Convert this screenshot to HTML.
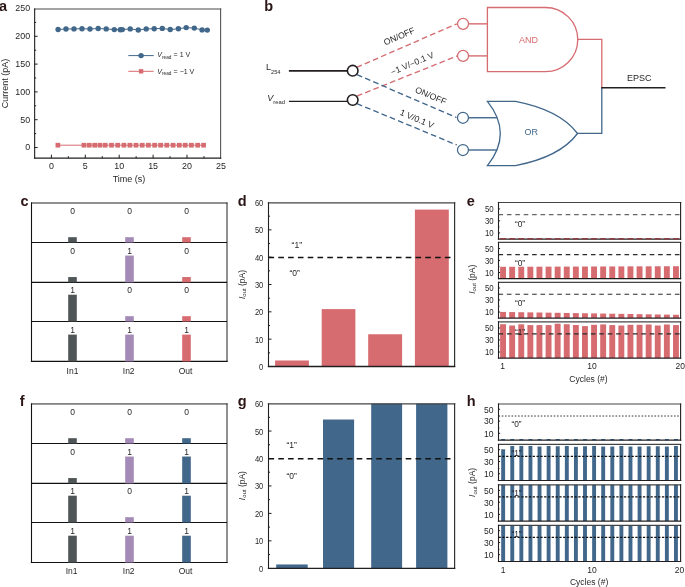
<!DOCTYPE html>
<html><head><meta charset="utf-8"><style>
html,body{margin:0;padding:0;background:#fff;}
svg{display:block;font-family:"Liberation Sans", sans-serif;will-change:transform;}
</style></head><body>
<svg width="685" height="587" viewBox="0 0 685 587">
<rect width="685" height="587" fill="#fff"/>
<text x="-1.00" y="10.60" font-size="14.5" text-anchor="start" fill="#2a1414" font-weight="bold" font-style="normal" >a</text>
<line x1="34.65" y1="8.95" x2="220.60" y2="8.95" stroke="#858585" stroke-width="1.4" stroke-linecap="square"/>
<line x1="220.60" y1="8.95" x2="220.60" y2="158.20" stroke="#555" stroke-width="1.1" stroke-linecap="square"/>
<line x1="34.65" y1="158.20" x2="220.60" y2="158.20" stroke="#231f20" stroke-width="1.2" stroke-linecap="square"/>
<line x1="34.65" y1="8.95" x2="34.65" y2="158.20" stroke="#231f20" stroke-width="1.1" stroke-linecap="square"/>
<line x1="34.65" y1="147.50" x2="37.65" y2="147.50" stroke="#231f20" stroke-width="1" />
<line x1="34.65" y1="133.60" x2="36.15" y2="133.60" stroke="#231f20" stroke-width="1" />
<line x1="34.65" y1="119.70" x2="37.65" y2="119.70" stroke="#231f20" stroke-width="1" />
<line x1="34.65" y1="105.80" x2="36.15" y2="105.80" stroke="#231f20" stroke-width="1" />
<line x1="34.65" y1="91.90" x2="37.65" y2="91.90" stroke="#231f20" stroke-width="1" />
<line x1="34.65" y1="78.00" x2="36.15" y2="78.00" stroke="#231f20" stroke-width="1" />
<line x1="34.65" y1="64.10" x2="37.65" y2="64.10" stroke="#231f20" stroke-width="1" />
<line x1="34.65" y1="50.20" x2="36.15" y2="50.20" stroke="#231f20" stroke-width="1" />
<line x1="34.65" y1="36.30" x2="37.65" y2="36.30" stroke="#231f20" stroke-width="1" />
<line x1="34.65" y1="22.40" x2="36.15" y2="22.40" stroke="#231f20" stroke-width="1" />
<text transform="translate(30.20 150.40) scale(0.9 1)" font-size="9.9" text-anchor="end" fill="#231f20" font-weight="normal" font-style="normal">0</text>
<text transform="translate(30.20 122.60) scale(0.9 1)" font-size="9.9" text-anchor="end" fill="#231f20" font-weight="normal" font-style="normal">50</text>
<text transform="translate(30.20 94.80) scale(0.9 1)" font-size="9.9" text-anchor="end" fill="#231f20" font-weight="normal" font-style="normal">100</text>
<text transform="translate(30.20 67.00) scale(0.9 1)" font-size="9.9" text-anchor="end" fill="#231f20" font-weight="normal" font-style="normal">150</text>
<text transform="translate(30.20 39.20) scale(0.9 1)" font-size="9.9" text-anchor="end" fill="#231f20" font-weight="normal" font-style="normal">200</text>
<text transform="translate(30.20 11.40) scale(0.9 1)" font-size="9.9" text-anchor="end" fill="#231f20" font-weight="normal" font-style="normal">250</text>
<line x1="51.40" y1="158.20" x2="51.40" y2="154.70" stroke="#231f20" stroke-width="1" />
<line x1="68.35" y1="158.20" x2="68.35" y2="156.20" stroke="#231f20" stroke-width="1" />
<line x1="85.30" y1="158.20" x2="85.30" y2="154.70" stroke="#231f20" stroke-width="1" />
<line x1="102.25" y1="158.20" x2="102.25" y2="156.20" stroke="#231f20" stroke-width="1" />
<line x1="119.20" y1="158.20" x2="119.20" y2="154.70" stroke="#231f20" stroke-width="1" />
<line x1="136.15" y1="158.20" x2="136.15" y2="156.20" stroke="#231f20" stroke-width="1" />
<line x1="153.10" y1="158.20" x2="153.10" y2="154.70" stroke="#231f20" stroke-width="1" />
<line x1="170.05" y1="158.20" x2="170.05" y2="156.20" stroke="#231f20" stroke-width="1" />
<line x1="187.00" y1="158.20" x2="187.00" y2="154.70" stroke="#231f20" stroke-width="1" />
<line x1="203.95" y1="158.20" x2="203.95" y2="156.20" stroke="#231f20" stroke-width="1" />
<text transform="translate(51.40 169.00) scale(0.9 1)" font-size="9.9" text-anchor="middle" fill="#231f20" font-weight="normal" font-style="normal">0</text>
<text transform="translate(85.30 169.00) scale(0.9 1)" font-size="9.9" text-anchor="middle" fill="#231f20" font-weight="normal" font-style="normal">5</text>
<text transform="translate(119.20 169.00) scale(0.9 1)" font-size="9.9" text-anchor="middle" fill="#231f20" font-weight="normal" font-style="normal">10</text>
<text transform="translate(153.10 169.00) scale(0.9 1)" font-size="9.9" text-anchor="middle" fill="#231f20" font-weight="normal" font-style="normal">15</text>
<text transform="translate(187.00 169.00) scale(0.9 1)" font-size="9.9" text-anchor="middle" fill="#231f20" font-weight="normal" font-style="normal">20</text>
<text transform="translate(220.90 169.00) scale(0.9 1)" font-size="9.9" text-anchor="middle" fill="#231f20" font-weight="normal" font-style="normal">25</text>
<text transform="translate(129.00 181.70) scale(0.95 1)" font-size="9.5" text-anchor="middle" fill="#231f20" font-weight="normal" font-style="normal">Time (s)</text>
<text x="7.60" y="83.40" font-size="9" text-anchor="middle" fill="#231f20" font-weight="normal" font-style="normal" transform="rotate(-90 7.6 83.4)">Current (pA)</text>
<polyline fill="none" stroke="#41678b" stroke-width="1" points="58.1,29.5 66,29.0 74,28.9 82,28.7 90,29.0 98.2,28.5 106.2,28.9 114.3,29.6 120.3,29.8 122.3,29.6 130.2,28.9 138.3,30 146.2,28.9 154.2,28.7 162.3,28.4 170.2,29.5 178.4,28.8 186.2,27.6 194.3,28.1 202.1,29.9 207.3,30.1"/>
<circle cx="58.1" cy="29.5" r="2.7" fill="#41678b"/>
<circle cx="66" cy="29.0" r="2.7" fill="#41678b"/>
<circle cx="74" cy="28.9" r="2.7" fill="#41678b"/>
<circle cx="82" cy="28.7" r="2.7" fill="#41678b"/>
<circle cx="90" cy="29.0" r="2.7" fill="#41678b"/>
<circle cx="98.2" cy="28.5" r="2.7" fill="#41678b"/>
<circle cx="106.2" cy="28.9" r="2.7" fill="#41678b"/>
<circle cx="114.3" cy="29.6" r="2.7" fill="#41678b"/>
<circle cx="120.3" cy="29.8" r="2.7" fill="#41678b"/>
<circle cx="122.3" cy="29.6" r="2.7" fill="#41678b"/>
<circle cx="130.2" cy="28.9" r="2.7" fill="#41678b"/>
<circle cx="138.3" cy="30" r="2.7" fill="#41678b"/>
<circle cx="146.2" cy="28.9" r="2.7" fill="#41678b"/>
<circle cx="154.2" cy="28.7" r="2.7" fill="#41678b"/>
<circle cx="162.3" cy="28.4" r="2.7" fill="#41678b"/>
<circle cx="170.2" cy="29.5" r="2.7" fill="#41678b"/>
<circle cx="178.4" cy="28.8" r="2.7" fill="#41678b"/>
<circle cx="186.2" cy="27.6" r="2.7" fill="#41678b"/>
<circle cx="194.3" cy="28.1" r="2.7" fill="#41678b"/>
<circle cx="202.1" cy="29.9" r="2.7" fill="#41678b"/>
<circle cx="207.3" cy="30.1" r="2.7" fill="#41678b"/>
<polyline fill="none" stroke="#d66b70" stroke-width="1" points="57.9,145.2 83.9,145.2 89.2,145.2 94.7,145.2 99.9,145.2 105.2,145.2 111.5,145.2 117.7,145.2 123.9,145.2 129.9,145.2 136.0,145.2 142.2,145.2 148.4,145.2 154.6,145.2 160.6,145.2 166.8,145.2 173.1,145.2 179.3,145.2 185.2,145.2 191.4,145.2 197.7,145.2 203.6,145.2"/>
<rect x="55.55" y="142.85" width="4.70" height="4.70" fill="#d66b70" stroke="none" stroke-width="1" />
<rect x="81.55" y="142.85" width="4.70" height="4.70" fill="#d66b70" stroke="none" stroke-width="1" />
<rect x="86.85" y="142.85" width="4.70" height="4.70" fill="#d66b70" stroke="none" stroke-width="1" />
<rect x="92.35" y="142.85" width="4.70" height="4.70" fill="#d66b70" stroke="none" stroke-width="1" />
<rect x="97.55" y="142.85" width="4.70" height="4.70" fill="#d66b70" stroke="none" stroke-width="1" />
<rect x="102.85" y="142.85" width="4.70" height="4.70" fill="#d66b70" stroke="none" stroke-width="1" />
<rect x="109.15" y="142.85" width="4.70" height="4.70" fill="#d66b70" stroke="none" stroke-width="1" />
<rect x="115.35" y="142.85" width="4.70" height="4.70" fill="#d66b70" stroke="none" stroke-width="1" />
<rect x="121.55" y="142.85" width="4.70" height="4.70" fill="#d66b70" stroke="none" stroke-width="1" />
<rect x="127.55" y="142.85" width="4.70" height="4.70" fill="#d66b70" stroke="none" stroke-width="1" />
<rect x="133.65" y="142.85" width="4.70" height="4.70" fill="#d66b70" stroke="none" stroke-width="1" />
<rect x="139.85" y="142.85" width="4.70" height="4.70" fill="#d66b70" stroke="none" stroke-width="1" />
<rect x="146.05" y="142.85" width="4.70" height="4.70" fill="#d66b70" stroke="none" stroke-width="1" />
<rect x="152.25" y="142.85" width="4.70" height="4.70" fill="#d66b70" stroke="none" stroke-width="1" />
<rect x="158.25" y="142.85" width="4.70" height="4.70" fill="#d66b70" stroke="none" stroke-width="1" />
<rect x="164.45" y="142.85" width="4.70" height="4.70" fill="#d66b70" stroke="none" stroke-width="1" />
<rect x="170.75" y="142.85" width="4.70" height="4.70" fill="#d66b70" stroke="none" stroke-width="1" />
<rect x="176.95" y="142.85" width="4.70" height="4.70" fill="#d66b70" stroke="none" stroke-width="1" />
<rect x="182.85" y="142.85" width="4.70" height="4.70" fill="#d66b70" stroke="none" stroke-width="1" />
<rect x="189.05" y="142.85" width="4.70" height="4.70" fill="#d66b70" stroke="none" stroke-width="1" />
<rect x="195.35" y="142.85" width="4.70" height="4.70" fill="#d66b70" stroke="none" stroke-width="1" />
<rect x="201.25" y="142.85" width="4.70" height="4.70" fill="#d66b70" stroke="none" stroke-width="1" />
<line x1="128.30" y1="55.60" x2="153.70" y2="55.60" stroke="#41678b" stroke-width="1" />
<circle cx="141.1" cy="55.6" r="2.7" fill="#41678b"/>
<line x1="128.30" y1="71.30" x2="153.70" y2="71.30" stroke="#d66b70" stroke-width="1" />
<rect x="138.90" y="69.10" width="4.40" height="4.40" fill="#d66b70" stroke="none" stroke-width="1" />
<text x="157.3" y="57.4" font-size="7" fill="#231f20"><tspan font-style="italic">V</tspan><tspan font-size="4.7" dy="1.4">read</tspan><tspan dy="-1.4" dx="0.3"> = 1 V</tspan></text>
<text x="157.3" y="73.9" font-size="7" fill="#231f20"><tspan font-style="italic">V</tspan><tspan font-size="4.7" dy="1.4">read</tspan><tspan dy="-1.4" dx="0.3"> = −1 V</tspan></text>
<text x="264.30" y="11.40" font-size="14.5" text-anchor="start" fill="#2a1414" font-weight="bold" font-style="normal" >b</text>
<text x="266" y="69.9" font-size="9" fill="#231f20">L<tspan font-size="5.6" dy="3.6">254</tspan></text>
<text x="267.3" y="101.4" font-size="9" fill="#231f20"><tspan font-style="italic">V</tspan><tspan font-size="5.9" dy="2.8">read</tspan></text>
<line x1="288.90" y1="70.90" x2="352.70" y2="70.90" stroke="#231f20" stroke-width="1.8" />
<line x1="288.90" y1="101.40" x2="352.70" y2="101.40" stroke="#231f20" stroke-width="1.3" />
<line x1="356.60" y1="67.40" x2="456.80" y2="23.80" stroke="#d66b70" stroke-width="1.35" stroke-dasharray="5.7 3.2"/>
<line x1="356.90" y1="96.10" x2="457.00" y2="56.00" stroke="#d66b70" stroke-width="1.35" stroke-dasharray="5.7 3.2"/>
<line x1="356.90" y1="74.70" x2="456.50" y2="117.50" stroke="#41678b" stroke-width="1.35" stroke-dasharray="5.7 3.2"/>
<line x1="356.90" y1="103.60" x2="456.80" y2="145.00" stroke="#41678b" stroke-width="1.35" stroke-dasharray="5.7 3.2"/>
<circle cx="352.7" cy="70.7" r="5.3" fill="#fff" stroke="#231f20" stroke-width="1.6"/>
<circle cx="352.7" cy="100.0" r="5.3" fill="#fff" stroke="#231f20" stroke-width="1.6"/>
<circle cx="463.05" cy="23.85" r="5.5" fill="#fff" stroke="#d66b70" stroke-width="1.25"/>
<circle cx="463.05" cy="55.9" r="5.5" fill="#fff" stroke="#d66b70" stroke-width="1.25"/>
<circle cx="462.95" cy="117.75" r="5.5" fill="#fff" stroke="#41678b" stroke-width="1.25"/>
<circle cx="462.95" cy="150.0" r="5.5" fill="#fff" stroke="#41678b" stroke-width="1.25"/>
<line x1="468.50" y1="23.85" x2="487.40" y2="23.85" stroke="#d66b70" stroke-width="1.4" />
<line x1="468.50" y1="55.90" x2="487.40" y2="55.90" stroke="#d66b70" stroke-width="1.4" />
<line x1="468.50" y1="117.75" x2="497.50" y2="117.75" stroke="#41678b" stroke-width="1.4" />
<line x1="468.50" y1="150.00" x2="497.50" y2="150.00" stroke="#41678b" stroke-width="1.4" />
<path d="M487.4,7.5 L545.5,7.5 A32.3,32.1 0 0 1 545.5,71.7 L487.4,71.7 Z" fill="#fff" stroke="#d66b70" stroke-width="1.3"/>
<text x="528.50" y="43.00" font-size="9" text-anchor="middle" fill="#d66b70" font-weight="normal" font-style="normal" >AND</text>
<path d="M487.4,101.4 L515.5,101.4 Q560,110 577.5,133.5 Q560,157 515.5,165.6 L487.4,165.6 Q513.2,133.5 487.4,101.4 Z" fill="#fff" stroke="#41678b" stroke-width="1.3"/>
<text x="531.20" y="135.00" font-size="9" text-anchor="middle" fill="#41678b" font-weight="normal" font-style="normal" >OR</text>
<polyline points="577.8,39.4 601.8,39.4 601.8,87.7" fill="none" stroke="#d66b70" stroke-width="1.3"/>
<polyline points="577.5,133.3 601.8,133.3 601.8,87.7" fill="none" stroke="#41678b" stroke-width="1.3"/>
<line x1="601.20" y1="87.70" x2="665.50" y2="87.70" stroke="#231f20" stroke-width="1.5" />
<text x="639.20" y="80.90" font-size="9" text-anchor="middle" fill="#231f20" font-weight="normal" font-style="normal" >EPSC</text>
<text x="400.3" y="39.0" font-size="8.7" text-anchor="middle" fill="#231f20" transform="rotate(-23.1 400.3 39.0)">ON/OFF</text>
<text x="413.4" y="66.2" font-size="8.7" text-anchor="middle" fill="#231f20" transform="rotate(-23.1 413.4 66.2)">−1 V/−0.1 V</text>
<text x="429.7" y="98.4" font-size="8.7" text-anchor="middle" fill="#231f20" transform="rotate(23.0 429.7 98.4)">ON/OFF</text>
<text x="415.8" y="121.6" font-size="8.7" text-anchor="middle" fill="#231f20" transform="rotate(23.0 415.8 121.6)">1 V/0.1 V</text>
<text x="20.50" y="206.30" font-size="14.5" text-anchor="start" fill="#2a1414" font-weight="bold" font-style="normal" >c</text>
<line x1="31.50" y1="203.00" x2="227.00" y2="203.00" stroke="#222" stroke-width="1.0" stroke-linecap="square"/>
<line x1="227.00" y1="203.00" x2="227.00" y2="361.40" stroke="#222" stroke-width="1.0" stroke-linecap="square"/>
<line x1="31.50" y1="361.40" x2="227.00" y2="361.40" stroke="#111" stroke-width="1.2" stroke-linecap="square"/>
<line x1="31.50" y1="203.00" x2="31.50" y2="361.40" stroke="#111" stroke-width="1.1" stroke-linecap="square"/>
<line x1="31.50" y1="242.50" x2="227.00" y2="242.50" stroke="#111" stroke-width="1.15" />
<line x1="31.50" y1="282.35" x2="227.00" y2="282.35" stroke="#111" stroke-width="1.15" />
<line x1="31.50" y1="321.50" x2="227.00" y2="321.50" stroke="#111" stroke-width="1.15" />
<rect x="68.20" y="237.20" width="8.60" height="5.30" fill="#505557" stroke="none" stroke-width="1" />
<text transform="translate(72.50 214.20) scale(0.95 1)" font-size="9" text-anchor="middle" fill="#231f20" font-weight="normal" font-style="normal">0</text>
<rect x="125.20" y="237.20" width="8.60" height="5.30" fill="#a48ab6" stroke="none" stroke-width="1" />
<text transform="translate(129.50 214.20) scale(0.95 1)" font-size="9" text-anchor="middle" fill="#231f20" font-weight="normal" font-style="normal">0</text>
<rect x="182.20" y="237.20" width="8.60" height="5.30" fill="#d66b70" stroke="none" stroke-width="1" />
<text transform="translate(186.50 214.20) scale(0.95 1)" font-size="9" text-anchor="middle" fill="#231f20" font-weight="normal" font-style="normal">0</text>
<rect x="68.20" y="277.05" width="8.60" height="5.30" fill="#505557" stroke="none" stroke-width="1" />
<text transform="translate(72.50 254.05) scale(0.95 1)" font-size="9" text-anchor="middle" fill="#231f20" font-weight="normal" font-style="normal">0</text>
<rect x="125.20" y="255.55" width="8.60" height="26.80" fill="#a48ab6" stroke="none" stroke-width="1" />
<text transform="translate(129.50 254.05) scale(0.95 1)" font-size="9" text-anchor="middle" fill="#231f20" font-weight="normal" font-style="normal">1</text>
<rect x="182.20" y="277.05" width="8.60" height="5.30" fill="#d66b70" stroke="none" stroke-width="1" />
<text transform="translate(186.50 254.05) scale(0.95 1)" font-size="9" text-anchor="middle" fill="#231f20" font-weight="normal" font-style="normal">0</text>
<rect x="68.20" y="294.70" width="8.60" height="26.80" fill="#505557" stroke="none" stroke-width="1" />
<text transform="translate(72.50 293.20) scale(0.95 1)" font-size="9" text-anchor="middle" fill="#231f20" font-weight="normal" font-style="normal">1</text>
<rect x="125.20" y="316.20" width="8.60" height="5.30" fill="#a48ab6" stroke="none" stroke-width="1" />
<text transform="translate(129.50 293.20) scale(0.95 1)" font-size="9" text-anchor="middle" fill="#231f20" font-weight="normal" font-style="normal">0</text>
<rect x="182.20" y="316.20" width="8.60" height="5.30" fill="#d66b70" stroke="none" stroke-width="1" />
<text transform="translate(186.50 293.20) scale(0.95 1)" font-size="9" text-anchor="middle" fill="#231f20" font-weight="normal" font-style="normal">0</text>
<rect x="68.20" y="334.60" width="8.60" height="26.80" fill="#505557" stroke="none" stroke-width="1" />
<text transform="translate(72.50 333.10) scale(0.95 1)" font-size="9" text-anchor="middle" fill="#231f20" font-weight="normal" font-style="normal">1</text>
<rect x="125.20" y="334.60" width="8.60" height="26.80" fill="#a48ab6" stroke="none" stroke-width="1" />
<text transform="translate(129.50 333.10) scale(0.95 1)" font-size="9" text-anchor="middle" fill="#231f20" font-weight="normal" font-style="normal">1</text>
<rect x="182.20" y="334.60" width="8.60" height="26.80" fill="#d66b70" stroke="none" stroke-width="1" />
<text transform="translate(186.50 333.10) scale(0.95 1)" font-size="9" text-anchor="middle" fill="#231f20" font-weight="normal" font-style="normal">1</text>
<text x="72.50" y="373.90" font-size="8.5" text-anchor="middle" fill="#231f20" font-weight="normal" font-style="normal" >In1</text>
<text x="128.70" y="373.90" font-size="8.5" text-anchor="middle" fill="#231f20" font-weight="normal" font-style="normal" >In2</text>
<text x="185.50" y="373.90" font-size="8.5" text-anchor="middle" fill="#231f20" font-weight="normal" font-style="normal" >Out</text>
<text x="19.80" y="405.90" font-size="14.5" text-anchor="start" fill="#2a1414" font-weight="bold" font-style="normal" >f</text>
<line x1="31.50" y1="403.95" x2="227.00" y2="403.95" stroke="#222" stroke-width="1.0" stroke-linecap="square"/>
<line x1="227.00" y1="403.95" x2="227.00" y2="562.50" stroke="#222" stroke-width="1.0" stroke-linecap="square"/>
<line x1="31.50" y1="562.50" x2="227.00" y2="562.50" stroke="#111" stroke-width="1.2" stroke-linecap="square"/>
<line x1="31.50" y1="403.95" x2="31.50" y2="562.50" stroke="#111" stroke-width="1.1" stroke-linecap="square"/>
<line x1="31.50" y1="443.50" x2="227.00" y2="443.50" stroke="#111" stroke-width="1.15" />
<line x1="31.50" y1="483.35" x2="227.00" y2="483.35" stroke="#111" stroke-width="1.15" />
<line x1="31.50" y1="522.50" x2="227.00" y2="522.50" stroke="#111" stroke-width="1.15" />
<rect x="68.20" y="438.20" width="8.60" height="5.30" fill="#505557" stroke="none" stroke-width="1" />
<text transform="translate(72.50 415.20) scale(0.95 1)" font-size="9" text-anchor="middle" fill="#231f20" font-weight="normal" font-style="normal">0</text>
<rect x="125.20" y="438.20" width="8.60" height="5.30" fill="#a48ab6" stroke="none" stroke-width="1" />
<text transform="translate(129.50 415.20) scale(0.95 1)" font-size="9" text-anchor="middle" fill="#231f20" font-weight="normal" font-style="normal">0</text>
<rect x="182.20" y="438.20" width="8.60" height="5.30" fill="#41678b" stroke="none" stroke-width="1" />
<text transform="translate(186.50 415.20) scale(0.95 1)" font-size="9" text-anchor="middle" fill="#231f20" font-weight="normal" font-style="normal">0</text>
<rect x="68.20" y="478.05" width="8.60" height="5.30" fill="#505557" stroke="none" stroke-width="1" />
<text transform="translate(72.50 455.05) scale(0.95 1)" font-size="9" text-anchor="middle" fill="#231f20" font-weight="normal" font-style="normal">0</text>
<rect x="125.20" y="456.55" width="8.60" height="26.80" fill="#a48ab6" stroke="none" stroke-width="1" />
<text transform="translate(129.50 455.05) scale(0.95 1)" font-size="9" text-anchor="middle" fill="#231f20" font-weight="normal" font-style="normal">1</text>
<rect x="182.20" y="456.55" width="8.60" height="26.80" fill="#41678b" stroke="none" stroke-width="1" />
<text transform="translate(186.50 455.05) scale(0.95 1)" font-size="9" text-anchor="middle" fill="#231f20" font-weight="normal" font-style="normal">1</text>
<rect x="68.20" y="495.70" width="8.60" height="26.80" fill="#505557" stroke="none" stroke-width="1" />
<text transform="translate(72.50 494.20) scale(0.95 1)" font-size="9" text-anchor="middle" fill="#231f20" font-weight="normal" font-style="normal">1</text>
<rect x="125.20" y="517.20" width="8.60" height="5.30" fill="#a48ab6" stroke="none" stroke-width="1" />
<text transform="translate(129.50 494.20) scale(0.95 1)" font-size="9" text-anchor="middle" fill="#231f20" font-weight="normal" font-style="normal">0</text>
<rect x="182.20" y="495.70" width="8.60" height="26.80" fill="#41678b" stroke="none" stroke-width="1" />
<text transform="translate(186.50 494.20) scale(0.95 1)" font-size="9" text-anchor="middle" fill="#231f20" font-weight="normal" font-style="normal">1</text>
<rect x="68.20" y="535.70" width="8.60" height="26.80" fill="#505557" stroke="none" stroke-width="1" />
<text transform="translate(72.50 534.20) scale(0.95 1)" font-size="9" text-anchor="middle" fill="#231f20" font-weight="normal" font-style="normal">1</text>
<rect x="125.20" y="535.70" width="8.60" height="26.80" fill="#a48ab6" stroke="none" stroke-width="1" />
<text transform="translate(129.50 534.20) scale(0.95 1)" font-size="9" text-anchor="middle" fill="#231f20" font-weight="normal" font-style="normal">1</text>
<rect x="182.20" y="535.70" width="8.60" height="26.80" fill="#41678b" stroke="none" stroke-width="1" />
<text transform="translate(186.50 534.20) scale(0.95 1)" font-size="9" text-anchor="middle" fill="#231f20" font-weight="normal" font-style="normal">1</text>
<text x="71.60" y="573.80" font-size="8.5" text-anchor="middle" fill="#231f20" font-weight="normal" font-style="normal" >In1</text>
<text x="128.70" y="573.80" font-size="8.5" text-anchor="middle" fill="#231f20" font-weight="normal" font-style="normal" >In2</text>
<text x="185.50" y="573.80" font-size="8.5" text-anchor="middle" fill="#231f20" font-weight="normal" font-style="normal" >Out</text>
<text x="237.80" y="206.30" font-size="14.5" text-anchor="start" fill="#2a1414" font-weight="bold" font-style="normal" >d</text>
<rect x="275.10" y="360.49" width="33.80" height="6.01" fill="#d66b70" stroke="none" stroke-width="1" />
<rect x="321.70" y="309.10" width="33.70" height="57.40" fill="#d66b70" stroke="none" stroke-width="1" />
<rect x="368.20" y="334.25" width="33.90" height="32.25" fill="#d66b70" stroke="none" stroke-width="1" />
<rect x="414.90" y="209.61" width="33.90" height="156.89" fill="#d66b70" stroke="none" stroke-width="1" />
<line x1="268.50" y1="202.80" x2="454.60" y2="202.80" stroke="#444" stroke-width="1.3" stroke-linecap="square"/>
<line x1="454.60" y1="202.80" x2="454.60" y2="366.50" stroke="#333" stroke-width="1.2" stroke-linecap="square"/>
<line x1="268.50" y1="366.50" x2="454.60" y2="366.50" stroke="#231f20" stroke-width="1.3" stroke-linecap="square"/>
<line x1="268.50" y1="202.80" x2="268.50" y2="366.50" stroke="#231f20" stroke-width="1.1" stroke-linecap="square"/>
<line x1="268.50" y1="352.83" x2="270.00" y2="352.83" stroke="#231f20" stroke-width="1" />
<line x1="268.50" y1="339.17" x2="271.50" y2="339.17" stroke="#231f20" stroke-width="1" />
<line x1="268.50" y1="325.50" x2="270.00" y2="325.50" stroke="#231f20" stroke-width="1" />
<line x1="268.50" y1="311.83" x2="271.50" y2="311.83" stroke="#231f20" stroke-width="1" />
<line x1="268.50" y1="298.17" x2="270.00" y2="298.17" stroke="#231f20" stroke-width="1" />
<line x1="268.50" y1="284.50" x2="271.50" y2="284.50" stroke="#231f20" stroke-width="1" />
<line x1="268.50" y1="270.83" x2="270.00" y2="270.83" stroke="#231f20" stroke-width="1" />
<line x1="268.50" y1="257.17" x2="271.50" y2="257.17" stroke="#231f20" stroke-width="1" />
<line x1="268.50" y1="243.50" x2="270.00" y2="243.50" stroke="#231f20" stroke-width="1" />
<line x1="268.50" y1="229.83" x2="271.50" y2="229.83" stroke="#231f20" stroke-width="1" />
<line x1="268.50" y1="216.17" x2="270.00" y2="216.17" stroke="#231f20" stroke-width="1" />
<text transform="translate(263.30 370.00) scale(0.77 1)" font-size="9.8" text-anchor="end" fill="#231f20" font-weight="normal" font-style="normal">0</text>
<text transform="translate(263.30 342.67) scale(0.77 1)" font-size="9.8" text-anchor="end" fill="#231f20" font-weight="normal" font-style="normal">10</text>
<text transform="translate(263.30 315.33) scale(0.77 1)" font-size="9.8" text-anchor="end" fill="#231f20" font-weight="normal" font-style="normal">20</text>
<text transform="translate(263.30 288.00) scale(0.77 1)" font-size="9.8" text-anchor="end" fill="#231f20" font-weight="normal" font-style="normal">30</text>
<text transform="translate(263.30 260.67) scale(0.77 1)" font-size="9.8" text-anchor="end" fill="#231f20" font-weight="normal" font-style="normal">40</text>
<text transform="translate(263.30 233.33) scale(0.77 1)" font-size="9.8" text-anchor="end" fill="#231f20" font-weight="normal" font-style="normal">50</text>
<text transform="translate(263.30 206.00) scale(0.77 1)" font-size="9.8" text-anchor="end" fill="#231f20" font-weight="normal" font-style="normal">60</text>
<line x1="268.50" y1="257.47" x2="454.60" y2="257.47" stroke="#111" stroke-width="1.5" stroke-dasharray="5.6 4.2"/>
<text transform="translate(296.80 248.00) scale(0.92 1)" font-size="9.3" text-anchor="middle" fill="#231f20" font-weight="normal" font-style="normal">“1”</text>
<text transform="translate(294.60 276.00) scale(0.92 1)" font-size="9.3" text-anchor="middle" fill="#231f20" font-weight="normal" font-style="normal">“0”</text>
<text x="244.6" y="284.5" font-size="8.5" fill="#231f20" text-anchor="middle" transform="rotate(-90 244.6 284.5)"><tspan font-style="italic">I</tspan><tspan font-size="6" dy="1.3">out</tspan><tspan dy="-1.3"> (pA)</tspan></text>
<text x="237.80" y="405.60" font-size="14.5" text-anchor="start" fill="#2a1414" font-weight="bold" font-style="normal" >g</text>
<rect x="276.20" y="564.46" width="31.50" height="3.84" fill="#41678b" stroke="none" stroke-width="1" />
<rect x="323.00" y="419.52" width="31.10" height="148.78" fill="#41678b" stroke="none" stroke-width="1" />
<rect x="371.20" y="403.60" width="30.90" height="164.70" fill="#41678b" stroke="none" stroke-width="1" />
<rect x="416.10" y="403.60" width="31.30" height="164.70" fill="#41678b" stroke="none" stroke-width="1" />
<line x1="268.50" y1="403.90" x2="454.60" y2="403.90" stroke="#444" stroke-width="1.3" stroke-linecap="square"/>
<line x1="454.60" y1="403.90" x2="454.60" y2="568.30" stroke="#333" stroke-width="1.2" stroke-linecap="square"/>
<line x1="268.50" y1="568.30" x2="454.60" y2="568.30" stroke="#231f20" stroke-width="1.3" stroke-linecap="square"/>
<line x1="268.50" y1="403.90" x2="268.50" y2="568.30" stroke="#231f20" stroke-width="1.1" stroke-linecap="square"/>
<line x1="268.50" y1="554.57" x2="270.00" y2="554.57" stroke="#231f20" stroke-width="1" />
<line x1="268.50" y1="540.85" x2="271.50" y2="540.85" stroke="#231f20" stroke-width="1" />
<line x1="268.50" y1="527.12" x2="270.00" y2="527.12" stroke="#231f20" stroke-width="1" />
<line x1="268.50" y1="513.40" x2="271.50" y2="513.40" stroke="#231f20" stroke-width="1" />
<line x1="268.50" y1="499.67" x2="270.00" y2="499.67" stroke="#231f20" stroke-width="1" />
<line x1="268.50" y1="485.95" x2="271.50" y2="485.95" stroke="#231f20" stroke-width="1" />
<line x1="268.50" y1="472.23" x2="270.00" y2="472.23" stroke="#231f20" stroke-width="1" />
<line x1="268.50" y1="458.50" x2="271.50" y2="458.50" stroke="#231f20" stroke-width="1" />
<line x1="268.50" y1="444.77" x2="270.00" y2="444.77" stroke="#231f20" stroke-width="1" />
<line x1="268.50" y1="431.05" x2="271.50" y2="431.05" stroke="#231f20" stroke-width="1" />
<line x1="268.50" y1="417.33" x2="270.00" y2="417.33" stroke="#231f20" stroke-width="1" />
<text transform="translate(263.30 571.80) scale(0.77 1)" font-size="9.8" text-anchor="end" fill="#231f20" font-weight="normal" font-style="normal">0</text>
<text transform="translate(263.30 544.35) scale(0.77 1)" font-size="9.8" text-anchor="end" fill="#231f20" font-weight="normal" font-style="normal">10</text>
<text transform="translate(263.30 516.90) scale(0.77 1)" font-size="9.8" text-anchor="end" fill="#231f20" font-weight="normal" font-style="normal">20</text>
<text transform="translate(263.30 489.45) scale(0.77 1)" font-size="9.8" text-anchor="end" fill="#231f20" font-weight="normal" font-style="normal">30</text>
<text transform="translate(263.30 462.00) scale(0.77 1)" font-size="9.8" text-anchor="end" fill="#231f20" font-weight="normal" font-style="normal">40</text>
<text transform="translate(263.30 434.55) scale(0.77 1)" font-size="9.8" text-anchor="end" fill="#231f20" font-weight="normal" font-style="normal">50</text>
<text transform="translate(263.30 407.10) scale(0.77 1)" font-size="9.8" text-anchor="end" fill="#231f20" font-weight="normal" font-style="normal">60</text>
<line x1="268.50" y1="458.80" x2="454.60" y2="458.80" stroke="#111" stroke-width="1.5" stroke-dasharray="5.6 4.2"/>
<text transform="translate(291.60 447.60) scale(0.92 1)" font-size="9.3" text-anchor="middle" fill="#231f20" font-weight="normal" font-style="normal">“1”</text>
<text transform="translate(291.60 479.40) scale(0.92 1)" font-size="9.3" text-anchor="middle" fill="#231f20" font-weight="normal" font-style="normal">“0”</text>
<text x="244.6" y="485.6" font-size="8.5" fill="#231f20" text-anchor="middle" transform="rotate(-90 244.6 485.6)"><tspan font-style="italic">I</tspan><tspan font-size="6" dy="1.3">out</tspan><tspan dy="-1.3"> (pA)</tspan></text>
<text x="466.80" y="206.30" font-size="14.5" text-anchor="start" fill="#2a1414" font-weight="bold" font-style="normal" >e</text>
<clipPath id="cpe0"><rect x="498.5" y="202.5" width="182.10000000000002" height="36.599999999999994"/></clipPath>
<line x1="498.50" y1="202.50" x2="680.60" y2="202.50" stroke="#444" stroke-width="1.2" stroke-linecap="square"/>
<line x1="680.60" y1="202.50" x2="680.60" y2="239.10" stroke="#231f20" stroke-width="1.1" stroke-linecap="square"/>
<line x1="498.50" y1="239.10" x2="680.60" y2="239.10" stroke="#231f20" stroke-width="1.2" stroke-linecap="square"/>
<line x1="498.50" y1="202.50" x2="498.50" y2="239.10" stroke="#231f20" stroke-width="1.1" stroke-linecap="square"/>
<rect x="500.10" y="238.00" width="5.90" height="1.50" fill="#8e4044" stroke="none" stroke-width="1" />
<rect x="509.20" y="238.00" width="5.90" height="1.50" fill="#8e4044" stroke="none" stroke-width="1" />
<rect x="518.30" y="238.00" width="5.90" height="1.50" fill="#8e4044" stroke="none" stroke-width="1" />
<rect x="527.40" y="238.00" width="5.90" height="1.50" fill="#8e4044" stroke="none" stroke-width="1" />
<rect x="536.50" y="238.00" width="5.90" height="1.50" fill="#8e4044" stroke="none" stroke-width="1" />
<rect x="545.60" y="238.00" width="5.90" height="1.50" fill="#8e4044" stroke="none" stroke-width="1" />
<rect x="554.70" y="238.00" width="5.90" height="1.50" fill="#8e4044" stroke="none" stroke-width="1" />
<rect x="563.80" y="238.00" width="5.90" height="1.50" fill="#8e4044" stroke="none" stroke-width="1" />
<rect x="572.90" y="238.00" width="5.90" height="1.50" fill="#8e4044" stroke="none" stroke-width="1" />
<rect x="582.00" y="238.00" width="5.90" height="1.50" fill="#8e4044" stroke="none" stroke-width="1" />
<rect x="591.10" y="238.00" width="5.90" height="1.50" fill="#8e4044" stroke="none" stroke-width="1" />
<rect x="600.20" y="238.00" width="5.90" height="1.50" fill="#8e4044" stroke="none" stroke-width="1" />
<rect x="609.30" y="238.00" width="5.90" height="1.50" fill="#8e4044" stroke="none" stroke-width="1" />
<rect x="618.40" y="238.00" width="5.90" height="1.50" fill="#8e4044" stroke="none" stroke-width="1" />
<rect x="627.50" y="238.00" width="5.90" height="1.50" fill="#8e4044" stroke="none" stroke-width="1" />
<rect x="636.60" y="238.00" width="5.90" height="1.50" fill="#8e4044" stroke="none" stroke-width="1" />
<rect x="645.70" y="238.00" width="5.90" height="1.50" fill="#8e4044" stroke="none" stroke-width="1" />
<rect x="654.80" y="238.00" width="5.90" height="1.50" fill="#8e4044" stroke="none" stroke-width="1" />
<rect x="663.90" y="238.00" width="5.90" height="1.50" fill="#8e4044" stroke="none" stroke-width="1" />
<rect x="673.00" y="238.00" width="5.90" height="1.50" fill="#8e4044" stroke="none" stroke-width="1" />
<text transform="translate(493.60 236.20) scale(0.8 1)" font-size="9.8" text-anchor="end" fill="#231f20" font-weight="normal" font-style="normal">10</text>
<line x1="498.50" y1="232.90" x2="500.10" y2="232.90" stroke="#231f20" stroke-width="1" />
<text transform="translate(493.60 224.10) scale(0.8 1)" font-size="9.8" text-anchor="end" fill="#231f20" font-weight="normal" font-style="normal">30</text>
<line x1="498.50" y1="220.80" x2="500.10" y2="220.80" stroke="#231f20" stroke-width="1" />
<text transform="translate(493.60 212.20) scale(0.8 1)" font-size="9.8" text-anchor="end" fill="#231f20" font-weight="normal" font-style="normal">50</text>
<line x1="498.50" y1="208.90" x2="500.10" y2="208.90" stroke="#231f20" stroke-width="1" />
<line x1="498.50" y1="226.90" x2="499.50" y2="226.90" stroke="#231f20" stroke-width="0.8" />
<line x1="498.50" y1="214.70" x2="499.50" y2="214.70" stroke="#231f20" stroke-width="0.8" />
<line x1="498.50" y1="214.70" x2="680.60" y2="214.70" stroke="#666" stroke-width="1.3" stroke-dasharray="4.6 3.8"/>
<text transform="translate(520.00 227.10) scale(0.9 1)" font-size="9.3" text-anchor="middle" fill="#231f20" font-weight="normal" font-style="normal">“0”</text>
<clipPath id="cpe1"><rect x="498.5" y="242.45" width="182.10000000000002" height="36.25"/></clipPath>
<g clip-path="url(#cpe1)"><rect x="500.10" y="266.80" width="5.9" height="11.90" fill="#d66b70"/><rect x="509.20" y="266.77" width="5.9" height="11.93" fill="#d66b70"/><rect x="518.30" y="266.74" width="5.9" height="11.96" fill="#d66b70"/><rect x="527.40" y="266.71" width="5.9" height="11.99" fill="#d66b70"/><rect x="536.50" y="266.68" width="5.9" height="12.02" fill="#d66b70"/><rect x="545.60" y="266.65" width="5.9" height="12.05" fill="#d66b70"/><rect x="554.70" y="266.62" width="5.9" height="12.08" fill="#d66b70"/><rect x="563.80" y="266.59" width="5.9" height="12.11" fill="#d66b70"/><rect x="572.90" y="266.56" width="5.9" height="12.14" fill="#d66b70"/><rect x="582.00" y="266.53" width="5.9" height="12.17" fill="#d66b70"/><rect x="591.10" y="266.50" width="5.9" height="12.20" fill="#d66b70"/><rect x="600.20" y="266.47" width="5.9" height="12.23" fill="#d66b70"/><rect x="609.30" y="266.44" width="5.9" height="12.26" fill="#d66b70"/><rect x="618.40" y="266.41" width="5.9" height="12.29" fill="#d66b70"/><rect x="627.50" y="266.38" width="5.9" height="12.32" fill="#d66b70"/><rect x="636.60" y="266.34" width="5.9" height="12.36" fill="#d66b70"/><rect x="645.70" y="266.31" width="5.9" height="12.39" fill="#d66b70"/><rect x="654.80" y="266.28" width="5.9" height="12.42" fill="#d66b70"/><rect x="663.90" y="266.25" width="5.9" height="12.45" fill="#d66b70"/><rect x="673.00" y="266.22" width="5.9" height="12.48" fill="#d66b70"/></g>
<line x1="498.50" y1="242.45" x2="680.60" y2="242.45" stroke="#444" stroke-width="1.2" stroke-linecap="square"/>
<line x1="680.60" y1="242.45" x2="680.60" y2="278.70" stroke="#231f20" stroke-width="1.1" stroke-linecap="square"/>
<line x1="498.50" y1="278.70" x2="680.60" y2="278.70" stroke="#231f20" stroke-width="1.2" stroke-linecap="square"/>
<line x1="498.50" y1="242.45" x2="498.50" y2="278.70" stroke="#231f20" stroke-width="1.1" stroke-linecap="square"/>
<text transform="translate(493.60 275.80) scale(0.8 1)" font-size="9.8" text-anchor="end" fill="#231f20" font-weight="normal" font-style="normal">10</text>
<line x1="498.50" y1="272.50" x2="500.10" y2="272.50" stroke="#231f20" stroke-width="1" />
<text transform="translate(493.60 263.70) scale(0.8 1)" font-size="9.8" text-anchor="end" fill="#231f20" font-weight="normal" font-style="normal">30</text>
<line x1="498.50" y1="260.40" x2="500.10" y2="260.40" stroke="#231f20" stroke-width="1" />
<text transform="translate(493.60 251.80) scale(0.8 1)" font-size="9.8" text-anchor="end" fill="#231f20" font-weight="normal" font-style="normal">50</text>
<line x1="498.50" y1="248.50" x2="500.10" y2="248.50" stroke="#231f20" stroke-width="1" />
<line x1="498.50" y1="266.62" x2="499.50" y2="266.62" stroke="#231f20" stroke-width="0.8" />
<line x1="498.50" y1="254.53" x2="499.50" y2="254.53" stroke="#231f20" stroke-width="0.8" />
<line x1="498.50" y1="254.53" x2="680.60" y2="254.53" stroke="#2a2a2a" stroke-width="1.2" stroke-dasharray="4.6 3.8"/>
<text transform="translate(520.00 266.20) scale(0.9 1)" font-size="9.3" text-anchor="middle" fill="#231f20" font-weight="normal" font-style="normal">“0”</text>
<clipPath id="cpe2"><rect x="498.5" y="282.3" width="182.10000000000002" height="35.89999999999998"/></clipPath>
<g clip-path="url(#cpe2)"><rect x="500.10" y="311.92" width="5.9" height="6.28" fill="#d66b70"/><rect x="509.20" y="312.07" width="5.9" height="6.13" fill="#d66b70"/><rect x="518.30" y="312.22" width="5.9" height="5.98" fill="#d66b70"/><rect x="527.40" y="312.37" width="5.9" height="5.83" fill="#d66b70"/><rect x="536.50" y="312.52" width="5.9" height="5.68" fill="#d66b70"/><rect x="545.60" y="312.67" width="5.9" height="5.53" fill="#d66b70"/><rect x="554.70" y="312.81" width="5.9" height="5.38" fill="#d66b70"/><rect x="563.80" y="312.96" width="5.9" height="5.24" fill="#d66b70"/><rect x="572.90" y="313.11" width="5.9" height="5.09" fill="#d66b70"/><rect x="582.00" y="313.26" width="5.9" height="4.94" fill="#d66b70"/><rect x="591.10" y="313.41" width="5.9" height="4.79" fill="#d66b70"/><rect x="600.20" y="313.56" width="5.9" height="4.64" fill="#d66b70"/><rect x="609.30" y="313.71" width="5.9" height="4.49" fill="#d66b70"/><rect x="618.40" y="313.86" width="5.9" height="4.34" fill="#d66b70"/><rect x="627.50" y="314.01" width="5.9" height="4.19" fill="#d66b70"/><rect x="636.60" y="314.16" width="5.9" height="4.04" fill="#d66b70"/><rect x="645.70" y="314.31" width="5.9" height="3.89" fill="#d66b70"/><rect x="654.80" y="314.46" width="5.9" height="3.74" fill="#d66b70"/><rect x="663.90" y="314.61" width="5.9" height="3.59" fill="#d66b70"/><rect x="673.00" y="314.76" width="5.9" height="3.44" fill="#d66b70"/></g>
<line x1="498.50" y1="282.30" x2="680.60" y2="282.30" stroke="#444" stroke-width="1.2" stroke-linecap="square"/>
<line x1="680.60" y1="282.30" x2="680.60" y2="318.20" stroke="#231f20" stroke-width="1.1" stroke-linecap="square"/>
<line x1="498.50" y1="318.20" x2="680.60" y2="318.20" stroke="#231f20" stroke-width="1.2" stroke-linecap="square"/>
<line x1="498.50" y1="282.30" x2="498.50" y2="318.20" stroke="#231f20" stroke-width="1.1" stroke-linecap="square"/>
<text transform="translate(493.60 315.30) scale(0.8 1)" font-size="9.8" text-anchor="end" fill="#231f20" font-weight="normal" font-style="normal">10</text>
<line x1="498.50" y1="312.00" x2="500.10" y2="312.00" stroke="#231f20" stroke-width="1" />
<text transform="translate(493.60 303.20) scale(0.8 1)" font-size="9.8" text-anchor="end" fill="#231f20" font-weight="normal" font-style="normal">30</text>
<line x1="498.50" y1="299.90" x2="500.10" y2="299.90" stroke="#231f20" stroke-width="1" />
<text transform="translate(493.60 291.30) scale(0.8 1)" font-size="9.8" text-anchor="end" fill="#231f20" font-weight="normal" font-style="normal">50</text>
<line x1="498.50" y1="288.00" x2="500.10" y2="288.00" stroke="#231f20" stroke-width="1" />
<line x1="498.50" y1="306.23" x2="499.50" y2="306.23" stroke="#231f20" stroke-width="0.8" />
<line x1="498.50" y1="294.27" x2="499.50" y2="294.27" stroke="#231f20" stroke-width="0.8" />
<line x1="498.50" y1="294.27" x2="680.60" y2="294.27" stroke="#2a2a2a" stroke-width="1.2" stroke-dasharray="4.6 3.8"/>
<text transform="translate(520.00 306.00) scale(0.9 1)" font-size="9.3" text-anchor="middle" fill="#231f20" font-weight="normal" font-style="normal">“0”</text>
<clipPath id="cpe3"><rect x="498.5" y="321.8" width="182.10000000000002" height="36.39999999999998"/></clipPath>
<g clip-path="url(#cpe3)"><rect x="500.10" y="324.21" width="5.9" height="33.99" fill="#d66b70"/><rect x="509.20" y="325.51" width="5.9" height="32.69" fill="#d66b70"/><rect x="518.30" y="324.31" width="5.9" height="33.89" fill="#d66b70"/><rect x="527.40" y="325.11" width="5.9" height="33.09" fill="#d66b70"/><rect x="536.50" y="325.11" width="5.9" height="33.09" fill="#d66b70"/><rect x="545.60" y="325.11" width="5.9" height="33.09" fill="#d66b70"/><rect x="554.70" y="323.71" width="5.9" height="34.49" fill="#d66b70"/><rect x="563.80" y="324.21" width="5.9" height="33.99" fill="#d66b70"/><rect x="572.90" y="325.01" width="5.9" height="33.19" fill="#d66b70"/><rect x="582.00" y="326.11" width="5.9" height="32.09" fill="#d66b70"/><rect x="591.10" y="324.81" width="5.9" height="33.39" fill="#d66b70"/><rect x="600.20" y="324.41" width="5.9" height="33.79" fill="#d66b70"/><rect x="609.30" y="325.11" width="5.9" height="33.09" fill="#d66b70"/><rect x="618.40" y="325.51" width="5.9" height="32.69" fill="#d66b70"/><rect x="627.50" y="324.81" width="5.9" height="33.39" fill="#d66b70"/><rect x="636.60" y="324.81" width="5.9" height="33.39" fill="#d66b70"/><rect x="645.70" y="324.51" width="5.9" height="33.69" fill="#d66b70"/><rect x="654.80" y="325.51" width="5.9" height="32.69" fill="#d66b70"/><rect x="663.90" y="324.51" width="5.9" height="33.69" fill="#d66b70"/><rect x="673.00" y="325.11" width="5.9" height="33.09" fill="#d66b70"/></g>
<line x1="498.50" y1="321.80" x2="680.60" y2="321.80" stroke="#444" stroke-width="1.2" stroke-linecap="square"/>
<line x1="680.60" y1="321.80" x2="680.60" y2="358.20" stroke="#231f20" stroke-width="1.1" stroke-linecap="square"/>
<line x1="498.50" y1="358.20" x2="680.60" y2="358.20" stroke="#231f20" stroke-width="1.2" stroke-linecap="square"/>
<line x1="498.50" y1="321.80" x2="498.50" y2="358.20" stroke="#231f20" stroke-width="1.1" stroke-linecap="square"/>
<text transform="translate(493.60 355.30) scale(0.8 1)" font-size="9.8" text-anchor="end" fill="#231f20" font-weight="normal" font-style="normal">10</text>
<line x1="498.50" y1="352.00" x2="500.10" y2="352.00" stroke="#231f20" stroke-width="1" />
<text transform="translate(493.60 343.20) scale(0.8 1)" font-size="9.8" text-anchor="end" fill="#231f20" font-weight="normal" font-style="normal">30</text>
<line x1="498.50" y1="339.90" x2="500.10" y2="339.90" stroke="#231f20" stroke-width="1" />
<text transform="translate(493.60 331.30) scale(0.8 1)" font-size="9.8" text-anchor="end" fill="#231f20" font-weight="normal" font-style="normal">50</text>
<line x1="498.50" y1="328.00" x2="500.10" y2="328.00" stroke="#231f20" stroke-width="1" />
<line x1="498.50" y1="346.07" x2="499.50" y2="346.07" stroke="#231f20" stroke-width="0.8" />
<line x1="498.50" y1="333.93" x2="499.50" y2="333.93" stroke="#231f20" stroke-width="0.8" />
<line x1="498.50" y1="333.93" x2="680.60" y2="333.93" stroke="#2a2a2a" stroke-width="1.2" stroke-dasharray="4.6 3.8"/>
<text transform="translate(520.00 334.90) scale(0.9 1)" font-size="9.3" text-anchor="middle" fill="#231f20" font-weight="normal" font-style="normal">“1”</text>
<text x="502.50" y="369.20" font-size="8.5" text-anchor="middle" fill="#231f20" font-weight="normal" font-style="normal" >1</text>
<text x="591.90" y="369.20" font-size="8.5" text-anchor="middle" fill="#231f20" font-weight="normal" font-style="normal" >10</text>
<text x="680.30" y="369.20" font-size="8.5" text-anchor="middle" fill="#231f20" font-weight="normal" font-style="normal" >20</text>
<text x="588.50" y="381.90" font-size="8.5" text-anchor="middle" fill="#231f20" font-weight="normal" font-style="normal" >Cycles (#)</text>
<text x="474.9" y="279.3" font-size="8.5" fill="#231f20" text-anchor="middle" transform="rotate(-90 474.9 279.3)"><tspan font-style="italic">I</tspan><tspan font-size="6" dy="1.3">out</tspan><tspan dy="-1.3"> (pA)</tspan></text>
<text x="466.80" y="405.80" font-size="14.5" text-anchor="start" fill="#2a1414" font-weight="bold" font-style="normal" >h</text>
<clipPath id="cph0"><rect x="498.5" y="404.0" width="182.10000000000002" height="36.10000000000002"/></clipPath>
<line x1="498.50" y1="404.00" x2="680.60" y2="404.00" stroke="#444" stroke-width="1.2" stroke-linecap="square"/>
<line x1="680.60" y1="404.00" x2="680.60" y2="440.10" stroke="#231f20" stroke-width="1.1" stroke-linecap="square"/>
<line x1="498.50" y1="440.10" x2="680.60" y2="440.10" stroke="#231f20" stroke-width="1.2" stroke-linecap="square"/>
<line x1="498.50" y1="404.00" x2="498.50" y2="440.10" stroke="#231f20" stroke-width="1.1" stroke-linecap="square"/>
<rect x="501.20" y="439.00" width="3.90" height="1.50" fill="#2c4560" stroke="none" stroke-width="1" />
<rect x="510.30" y="439.00" width="3.90" height="1.50" fill="#2c4560" stroke="none" stroke-width="1" />
<rect x="519.39" y="439.00" width="3.90" height="1.50" fill="#2c4560" stroke="none" stroke-width="1" />
<rect x="528.49" y="439.00" width="3.90" height="1.50" fill="#2c4560" stroke="none" stroke-width="1" />
<rect x="537.58" y="439.00" width="3.90" height="1.50" fill="#2c4560" stroke="none" stroke-width="1" />
<rect x="546.67" y="439.00" width="3.90" height="1.50" fill="#2c4560" stroke="none" stroke-width="1" />
<rect x="555.77" y="439.00" width="3.90" height="1.50" fill="#2c4560" stroke="none" stroke-width="1" />
<rect x="564.87" y="439.00" width="3.90" height="1.50" fill="#2c4560" stroke="none" stroke-width="1" />
<rect x="573.96" y="439.00" width="3.90" height="1.50" fill="#2c4560" stroke="none" stroke-width="1" />
<rect x="583.05" y="439.00" width="3.90" height="1.50" fill="#2c4560" stroke="none" stroke-width="1" />
<rect x="592.15" y="439.00" width="3.90" height="1.50" fill="#2c4560" stroke="none" stroke-width="1" />
<rect x="601.25" y="439.00" width="3.90" height="1.50" fill="#2c4560" stroke="none" stroke-width="1" />
<rect x="610.34" y="439.00" width="3.90" height="1.50" fill="#2c4560" stroke="none" stroke-width="1" />
<rect x="619.43" y="439.00" width="3.90" height="1.50" fill="#2c4560" stroke="none" stroke-width="1" />
<rect x="628.53" y="439.00" width="3.90" height="1.50" fill="#2c4560" stroke="none" stroke-width="1" />
<rect x="637.62" y="439.00" width="3.90" height="1.50" fill="#2c4560" stroke="none" stroke-width="1" />
<rect x="646.72" y="439.00" width="3.90" height="1.50" fill="#2c4560" stroke="none" stroke-width="1" />
<rect x="655.82" y="439.00" width="3.90" height="1.50" fill="#2c4560" stroke="none" stroke-width="1" />
<rect x="664.91" y="439.00" width="3.90" height="1.50" fill="#2c4560" stroke="none" stroke-width="1" />
<rect x="674.00" y="439.00" width="3.90" height="1.50" fill="#2c4560" stroke="none" stroke-width="1" />
<text transform="translate(493.60 436.60) scale(0.88 1)" font-size="9.8" text-anchor="end" fill="#231f20" font-weight="normal" font-style="normal">10</text>
<line x1="498.50" y1="433.30" x2="500.10" y2="433.30" stroke="#231f20" stroke-width="1" />
<text transform="translate(493.60 424.40) scale(0.88 1)" font-size="9.8" text-anchor="end" fill="#231f20" font-weight="normal" font-style="normal">30</text>
<line x1="498.50" y1="421.10" x2="500.10" y2="421.10" stroke="#231f20" stroke-width="1" />
<text transform="translate(493.60 412.60) scale(0.88 1)" font-size="9.8" text-anchor="end" fill="#231f20" font-weight="normal" font-style="normal">50</text>
<line x1="498.50" y1="409.30" x2="500.10" y2="409.30" stroke="#231f20" stroke-width="1" />
<line x1="498.50" y1="428.07" x2="499.50" y2="428.07" stroke="#231f20" stroke-width="0.8" />
<line x1="498.50" y1="416.03" x2="499.50" y2="416.03" stroke="#231f20" stroke-width="0.8" />
<line x1="498.50" y1="416.03" x2="680.60" y2="416.03" stroke="#333" stroke-width="1.0" stroke-dasharray="1.6 1.65"/>
<text transform="translate(516.50 426.90) scale(0.9 1)" font-size="9.3" text-anchor="middle" fill="#231f20" font-weight="normal" font-style="normal">“0”</text>
<clipPath id="cph1"><rect x="498.5" y="444.45" width="182.10000000000002" height="36.05000000000001"/></clipPath>
<g clip-path="url(#cph1)"><rect x="501.20" y="449.26" width="3.9" height="31.24" fill="#41678b"/><rect x="510.30" y="445.95" width="3.9" height="34.55" fill="#41678b"/><rect x="519.39" y="445.95" width="3.9" height="34.55" fill="#41678b"/><rect x="528.49" y="445.95" width="3.9" height="34.55" fill="#41678b"/><rect x="537.58" y="446.55" width="3.9" height="33.95" fill="#41678b"/><rect x="546.67" y="445.95" width="3.9" height="34.55" fill="#41678b"/><rect x="555.77" y="446.25" width="3.9" height="34.25" fill="#41678b"/><rect x="564.87" y="445.95" width="3.9" height="34.55" fill="#41678b"/><rect x="573.96" y="446.85" width="3.9" height="33.65" fill="#41678b"/><rect x="583.05" y="446.25" width="3.9" height="34.25" fill="#41678b"/><rect x="592.15" y="445.95" width="3.9" height="34.55" fill="#41678b"/><rect x="601.25" y="446.55" width="3.9" height="33.95" fill="#41678b"/><rect x="610.34" y="446.55" width="3.9" height="33.95" fill="#41678b"/><rect x="619.43" y="445.95" width="3.9" height="34.55" fill="#41678b"/><rect x="628.53" y="446.55" width="3.9" height="33.95" fill="#41678b"/><rect x="637.62" y="446.55" width="3.9" height="33.95" fill="#41678b"/><rect x="646.72" y="446.25" width="3.9" height="34.25" fill="#41678b"/><rect x="655.82" y="446.25" width="3.9" height="34.25" fill="#41678b"/><rect x="664.91" y="446.55" width="3.9" height="33.95" fill="#41678b"/><rect x="674.00" y="445.95" width="3.9" height="34.55" fill="#41678b"/></g>
<line x1="498.50" y1="444.45" x2="680.60" y2="444.45" stroke="#444" stroke-width="1.2" stroke-linecap="square"/>
<line x1="680.60" y1="444.45" x2="680.60" y2="480.50" stroke="#231f20" stroke-width="1.1" stroke-linecap="square"/>
<line x1="498.50" y1="480.50" x2="680.60" y2="480.50" stroke="#231f20" stroke-width="1.2" stroke-linecap="square"/>
<line x1="498.50" y1="444.45" x2="498.50" y2="480.50" stroke="#231f20" stroke-width="1.1" stroke-linecap="square"/>
<text transform="translate(493.60 477.00) scale(0.88 1)" font-size="9.8" text-anchor="end" fill="#231f20" font-weight="normal" font-style="normal">10</text>
<line x1="498.50" y1="473.70" x2="500.10" y2="473.70" stroke="#231f20" stroke-width="1" />
<text transform="translate(493.60 464.80) scale(0.88 1)" font-size="9.8" text-anchor="end" fill="#231f20" font-weight="normal" font-style="normal">30</text>
<line x1="498.50" y1="461.50" x2="500.10" y2="461.50" stroke="#231f20" stroke-width="1" />
<text transform="translate(493.60 453.00) scale(0.88 1)" font-size="9.8" text-anchor="end" fill="#231f20" font-weight="normal" font-style="normal">50</text>
<line x1="498.50" y1="449.70" x2="500.10" y2="449.70" stroke="#231f20" stroke-width="1" />
<line x1="498.50" y1="468.48" x2="499.50" y2="468.48" stroke="#231f20" stroke-width="0.8" />
<line x1="498.50" y1="456.47" x2="499.50" y2="456.47" stroke="#231f20" stroke-width="0.8" />
<line x1="498.50" y1="456.47" x2="680.60" y2="456.47" stroke="#111" stroke-width="1.2" stroke-dasharray="2.3 1.5"/>
<text transform="translate(516.50 455.90) scale(0.9 1)" font-size="9.3" text-anchor="middle" fill="#231f20" font-weight="normal" font-style="normal">“1”</text>
<clipPath id="cph2"><rect x="498.5" y="484.8" width="182.10000000000002" height="36.400000000000034"/></clipPath>
<g clip-path="url(#cph2)"><rect x="501.20" y="482.37" width="3.9" height="38.83" fill="#41678b"/><rect x="510.30" y="482.37" width="3.9" height="38.83" fill="#41678b"/><rect x="519.39" y="482.37" width="3.9" height="38.83" fill="#41678b"/><rect x="528.49" y="482.37" width="3.9" height="38.83" fill="#41678b"/><rect x="537.58" y="482.37" width="3.9" height="38.83" fill="#41678b"/><rect x="546.67" y="482.37" width="3.9" height="38.83" fill="#41678b"/><rect x="555.77" y="482.37" width="3.9" height="38.83" fill="#41678b"/><rect x="564.87" y="482.37" width="3.9" height="38.83" fill="#41678b"/><rect x="573.96" y="482.37" width="3.9" height="38.83" fill="#41678b"/><rect x="583.05" y="482.37" width="3.9" height="38.83" fill="#41678b"/><rect x="592.15" y="482.37" width="3.9" height="38.83" fill="#41678b"/><rect x="601.25" y="482.37" width="3.9" height="38.83" fill="#41678b"/><rect x="610.34" y="482.37" width="3.9" height="38.83" fill="#41678b"/><rect x="619.43" y="482.37" width="3.9" height="38.83" fill="#41678b"/><rect x="628.53" y="482.37" width="3.9" height="38.83" fill="#41678b"/><rect x="637.62" y="482.37" width="3.9" height="38.83" fill="#41678b"/><rect x="646.72" y="482.37" width="3.9" height="38.83" fill="#41678b"/><rect x="655.82" y="482.37" width="3.9" height="38.83" fill="#41678b"/><rect x="664.91" y="482.37" width="3.9" height="38.83" fill="#41678b"/><rect x="674.00" y="482.37" width="3.9" height="38.83" fill="#41678b"/></g>
<line x1="498.50" y1="484.80" x2="680.60" y2="484.80" stroke="#444" stroke-width="1.2" stroke-linecap="square"/>
<line x1="680.60" y1="484.80" x2="680.60" y2="521.20" stroke="#231f20" stroke-width="1.1" stroke-linecap="square"/>
<line x1="498.50" y1="521.20" x2="680.60" y2="521.20" stroke="#231f20" stroke-width="1.2" stroke-linecap="square"/>
<line x1="498.50" y1="484.80" x2="498.50" y2="521.20" stroke="#231f20" stroke-width="1.1" stroke-linecap="square"/>
<text transform="translate(493.60 517.70) scale(0.88 1)" font-size="9.8" text-anchor="end" fill="#231f20" font-weight="normal" font-style="normal">10</text>
<line x1="498.50" y1="514.40" x2="500.10" y2="514.40" stroke="#231f20" stroke-width="1" />
<text transform="translate(493.60 505.50) scale(0.88 1)" font-size="9.8" text-anchor="end" fill="#231f20" font-weight="normal" font-style="normal">30</text>
<line x1="498.50" y1="502.20" x2="500.10" y2="502.20" stroke="#231f20" stroke-width="1" />
<text transform="translate(493.60 493.70) scale(0.88 1)" font-size="9.8" text-anchor="end" fill="#231f20" font-weight="normal" font-style="normal">50</text>
<line x1="498.50" y1="490.40" x2="500.10" y2="490.40" stroke="#231f20" stroke-width="1" />
<line x1="498.50" y1="509.07" x2="499.50" y2="509.07" stroke="#231f20" stroke-width="0.8" />
<line x1="498.50" y1="496.93" x2="499.50" y2="496.93" stroke="#231f20" stroke-width="0.8" />
<line x1="498.50" y1="496.93" x2="680.60" y2="496.93" stroke="#111" stroke-width="1.2" stroke-dasharray="2.3 1.5"/>
<text transform="translate(516.50 496.10) scale(0.9 1)" font-size="9.3" text-anchor="middle" fill="#231f20" font-weight="normal" font-style="normal">“1”</text>
<clipPath id="cph3"><rect x="498.5" y="525.35" width="182.10000000000002" height="36.14999999999998"/></clipPath>
<g clip-path="url(#cph3)"><rect x="501.20" y="522.94" width="3.9" height="38.56" fill="#41678b"/><rect x="510.30" y="522.94" width="3.9" height="38.56" fill="#41678b"/><rect x="519.39" y="522.94" width="3.9" height="38.56" fill="#41678b"/><rect x="528.49" y="522.94" width="3.9" height="38.56" fill="#41678b"/><rect x="537.58" y="522.94" width="3.9" height="38.56" fill="#41678b"/><rect x="546.67" y="522.94" width="3.9" height="38.56" fill="#41678b"/><rect x="555.77" y="522.94" width="3.9" height="38.56" fill="#41678b"/><rect x="564.87" y="522.94" width="3.9" height="38.56" fill="#41678b"/><rect x="573.96" y="522.94" width="3.9" height="38.56" fill="#41678b"/><rect x="583.05" y="522.94" width="3.9" height="38.56" fill="#41678b"/><rect x="592.15" y="522.94" width="3.9" height="38.56" fill="#41678b"/><rect x="601.25" y="522.94" width="3.9" height="38.56" fill="#41678b"/><rect x="610.34" y="522.94" width="3.9" height="38.56" fill="#41678b"/><rect x="619.43" y="522.94" width="3.9" height="38.56" fill="#41678b"/><rect x="628.53" y="522.94" width="3.9" height="38.56" fill="#41678b"/><rect x="637.62" y="522.94" width="3.9" height="38.56" fill="#41678b"/><rect x="646.72" y="522.94" width="3.9" height="38.56" fill="#41678b"/><rect x="655.82" y="522.94" width="3.9" height="38.56" fill="#41678b"/><rect x="664.91" y="522.94" width="3.9" height="38.56" fill="#41678b"/><rect x="674.00" y="522.94" width="3.9" height="38.56" fill="#41678b"/></g>
<line x1="498.50" y1="525.35" x2="680.60" y2="525.35" stroke="#444" stroke-width="1.2" stroke-linecap="square"/>
<line x1="680.60" y1="525.35" x2="680.60" y2="561.50" stroke="#231f20" stroke-width="1.1" stroke-linecap="square"/>
<line x1="498.50" y1="561.50" x2="680.60" y2="561.50" stroke="#231f20" stroke-width="1.2" stroke-linecap="square"/>
<line x1="498.50" y1="525.35" x2="498.50" y2="561.50" stroke="#231f20" stroke-width="1.1" stroke-linecap="square"/>
<text transform="translate(493.60 558.00) scale(0.88 1)" font-size="9.8" text-anchor="end" fill="#231f20" font-weight="normal" font-style="normal">10</text>
<line x1="498.50" y1="554.70" x2="500.10" y2="554.70" stroke="#231f20" stroke-width="1" />
<text transform="translate(493.60 545.80) scale(0.88 1)" font-size="9.8" text-anchor="end" fill="#231f20" font-weight="normal" font-style="normal">30</text>
<line x1="498.50" y1="542.50" x2="500.10" y2="542.50" stroke="#231f20" stroke-width="1" />
<text transform="translate(493.60 534.00) scale(0.88 1)" font-size="9.8" text-anchor="end" fill="#231f20" font-weight="normal" font-style="normal">50</text>
<line x1="498.50" y1="530.70" x2="500.10" y2="530.70" stroke="#231f20" stroke-width="1" />
<line x1="498.50" y1="549.45" x2="499.50" y2="549.45" stroke="#231f20" stroke-width="0.8" />
<line x1="498.50" y1="537.40" x2="499.50" y2="537.40" stroke="#231f20" stroke-width="0.8" />
<line x1="498.50" y1="537.40" x2="680.60" y2="537.40" stroke="#111" stroke-width="1.2" stroke-dasharray="2.3 1.5"/>
<text transform="translate(516.50 536.80) scale(0.9 1)" font-size="9.3" text-anchor="middle" fill="#231f20" font-weight="normal" font-style="normal">“1”</text>
<text x="503.00" y="573.00" font-size="8.5" text-anchor="middle" fill="#231f20" font-weight="normal" font-style="normal" >1</text>
<text x="592.00" y="573.00" font-size="8.5" text-anchor="middle" fill="#231f20" font-weight="normal" font-style="normal" >10</text>
<text x="679.60" y="573.00" font-size="8.5" text-anchor="middle" fill="#231f20" font-weight="normal" font-style="normal" >20</text>
<text x="589.10" y="584.70" font-size="8.5" text-anchor="middle" fill="#231f20" font-weight="normal" font-style="normal" >Cycles (#)</text>
<text x="475.5" y="482.4" font-size="8.5" fill="#231f20" text-anchor="middle" transform="rotate(-90 475.5 482.4)"><tspan font-style="italic">I</tspan><tspan font-size="6" dy="1.3">out</tspan><tspan dy="-1.3"> (pA)</tspan></text>
</svg>
</body></html>
